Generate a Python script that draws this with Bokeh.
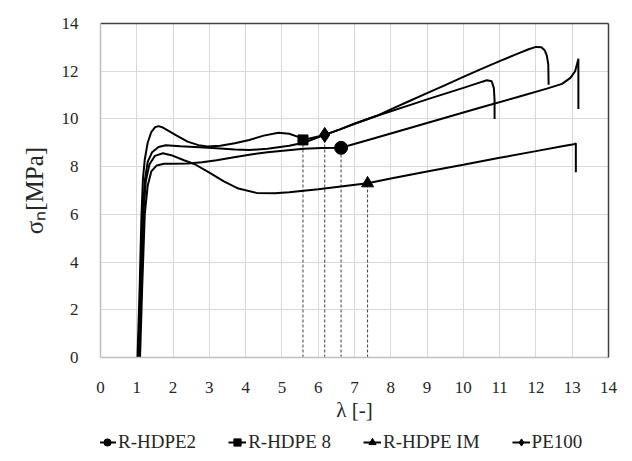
from bokeh.plotting import figure
from bokeh.models import Legend, LegendItem, FixedTicker, Range1d, LinearAxis
from bokeh.layouts import column
from bokeh.embed import file_html
from bokeh.resources import INLINE

# ---------------- data ----------------
series_names = ["R-HDPE2", "R-HDPE 8", "R-HDPE IM", "PE100"]

rhdpe2_x = [1.09, 1.15, 1.22, 1.3, 1.4, 1.55, 1.75, 2.0, 2.4, 2.8, 3.2, 3.6, 4.1, 4.6, 5.1,
            5.6, 6.1, 6.63, 7.5, 8.5, 9.5, 10.5, 11.5, 12.3, 12.72, 12.95, 13.08, 13.15, 13.17, 13.17]
rhdpe2_y = [0.0, 3.0, 6.0, 7.2, 7.8, 8.05, 8.12, 8.12, 8.13, 8.18, 8.27, 8.37, 8.5, 8.6, 8.68,
            8.75, 8.78, 8.79, 9.17, 9.61, 10.05, 10.49, 10.92, 11.27, 11.47, 11.72, 12.0, 12.4, 12.52, 10.42]

rhdpe8_x = [1.02, 1.08, 1.13, 1.17, 1.22, 1.3, 1.4, 1.5, 1.6, 1.72, 1.9, 2.1, 2.4, 2.7, 2.95,
            3.3, 3.7, 4.1, 4.5, 4.9, 5.2, 5.45, 5.58, 6.18, 6.6, 7.0, 7.6, 8.0, 8.5, 9.0, 9.5,
            10.0, 10.4, 10.65, 10.78, 10.84, 10.86, 10.86]
rhdpe8_y = [0.0, 3.0, 6.0, 7.5, 8.3, 9.0, 9.45, 9.65, 9.7, 9.64, 9.48, 9.3, 9.05, 8.9, 8.84,
            8.88, 8.98, 9.12, 9.3, 9.42, 9.38, 9.25, 9.12, 9.33, 9.56, 9.8, 10.12, 10.32, 10.57, 10.82, 11.06,
            11.3, 11.5, 11.62, 11.58, 11.3, 10.8, 10.0]

rhdpeim_x = [1.06, 1.12, 1.18, 1.25, 1.35, 1.5, 1.72, 1.95, 2.3, 2.6, 3.0, 3.4, 3.8, 4.3, 4.8,
             5.2, 6.0, 7.36, 8.0, 9.0, 10.0, 11.0, 12.0, 12.8, 13.05, 13.1, 13.1]
rhdpeim_y = [0.0, 3.0, 6.0, 7.4, 8.1, 8.45, 8.56, 8.48, 8.27, 8.1, 7.75, 7.38, 7.08, 6.9, 6.88,
             6.93, 7.05, 7.3, 7.5, 7.8, 8.08, 8.37, 8.65, 8.88, 8.94, 8.98, 7.77]

pe100_x = [1.04, 1.1, 1.16, 1.22, 1.3, 1.42, 1.6, 1.8, 2.2, 2.6, 3.2, 3.7, 4.1, 4.6, 5.2, 5.6,
           6.18, 6.6, 7.0, 7.6, 8.0, 8.5, 9.0, 9.5, 10.0, 10.5, 11.0, 11.5, 11.8, 12.0, 12.15,
           12.24, 12.3, 12.34, 12.35]
pe100_y = [0.0, 3.0, 6.0, 7.4, 8.2, 8.6, 8.82, 8.9, 8.85, 8.82, 8.77, 8.72, 8.7, 8.75, 8.88, 9.0,
           9.33, 9.56, 9.8, 10.12, 10.4, 10.74, 11.08, 11.42, 11.76, 12.1, 12.42, 12.74, 12.92, 13.02, 13.0,
           12.88, 12.65, 12.3, 11.43]

marker_x = [6.63, 5.58, 7.36, 6.18]
marker_y = [8.79, 9.12, 7.30, 9.33]
marker_kinds = ["circle", "square", "triangle", "diamond"]
marker_sizes = [13, 10, 12, 15]

x_ticks = list(range(0, 15))
y_ticks = list(range(0, 15, 2))

FONT = "Liberation Serif"
TXT = "#262626"

W = 632
LEG_H = 34
MAIN_H = 461 - LEG_H

p = figure(width=W, height=MAIN_H, output_backend="svg", toolbar_location=None,
           x_range=Range1d(0, 14), y_range=Range1d(0, 14),
           min_border_left=100, min_border_right=24, min_border_top=23,
           min_border_bottom=MAIN_H - 357)

p.background_fill_color = "white"
p.border_fill_color = "white"
p.outline_line_color = None

p.xaxis.ticker = FixedTicker(ticks=x_ticks)
p.yaxis.ticker = FixedTicker(ticks=y_ticks)
p.xgrid.ticker = FixedTicker(ticks=x_ticks)
p.ygrid.ticker = FixedTicker(ticks=y_ticks)
for g in (p.xgrid, p.ygrid):
    g.grid_line_color = "#D9D9D9"
    g.grid_line_width = 1

for ax in (p.xaxis, p.yaxis):
    ax.axis_line_color = "#BFBFBF"
    ax.axis_line_width = 1.5
    ax.major_tick_line_color = None
    ax.minor_tick_line_color = None
    ax.major_tick_out = 0
    ax.major_tick_in = 0
    ax.major_label_text_font = FONT
    ax.major_label_text_font_size = "17px"
    ax.major_label_text_color = TXT
    ax.axis_label_text_font = FONT
    ax.axis_label_text_font_style = "normal"
    ax.axis_label_text_color = TXT

p.xaxis.major_label_standoff = 24
p.yaxis.major_label_standoff = 22
p.xaxis.axis_label = "λ [-]"
p.xaxis.axis_label_text_font_size = "21px"
p.xaxis.axis_label_standoff = 2
p.yaxis.axis_label = "σₙ[MPa]"
p.yaxis.axis_label_text_font_size = "25px"
p.yaxis.axis_label_standoff = 11

# dark border on top and right of the plot area
for side in ("above", "right"):
    b = LinearAxis(ticker=FixedTicker(ticks=[]), axis_line_color="#404040", axis_line_width=1.5,
                   major_tick_line_color=None, minor_tick_line_color=None,
                   major_label_text_font_size="0px")
    p.add_layout(b, side)

xs = [rhdpe2_x, rhdpe8_x, rhdpeim_x, pe100_x]
ys = [rhdpe2_y, rhdpe8_y, rhdpeim_y, pe100_y]

# drop lines
p.segment(x0=marker_x, y0=[0] * len(marker_x), x1=marker_x, y1=marker_y,
          line_color="#404040", line_width=1, line_dash="3 2")

for x, y, mx, my, mk, ms in zip(xs, ys, marker_x, marker_y, marker_kinds, marker_sizes):
    p.line(x, y, line_color="black", line_width=2)
    p.scatter([mx], [my], marker=mk, size=ms, fill_color="black", line_color="black")

# ---------------- legend strip ----------------
lg = figure(width=W, height=LEG_H, output_backend="svg", toolbar_location=None,
            x_range=Range1d(100, 101), y_range=Range1d(100, 101),
            x_axis_type=None, y_axis_type=None, min_border=0)
lg.outline_line_color = None
lg.grid.visible = False
lg.background_fill_color = "white"
lg.border_fill_color = "white"

items = []
for name, x, y, mx, my, mk, ms in zip(series_names, xs, ys, marker_x, marker_y, marker_kinds, marker_sizes):
    lr = lg.line(x, y, line_color="black", line_width=2)
    sr = lg.scatter([mx], [my], marker=mk, size=ms - 1, fill_color="black", line_color="black")
    items.append(LegendItem(label=name, renderers=[lr, sr]))

legend = Legend(items=items, orientation="horizontal", location=(-2, 8))
legend.label_text_font = FONT
legend.label_text_font_size = "19px"
legend.label_text_color = TXT
legend.glyph_width = 18
legend.glyph_height = 18
legend.label_standoff = 2
legend.spacing = 32
legend.padding = 0
legend.margin = 0
legend.border_line_color = None
legend.background_fill_alpha = 0
lg.add_layout(legend, "center")

layout = column(p, lg, spacing=0)
open("out.html", "w").write(file_html(layout, INLINE))
